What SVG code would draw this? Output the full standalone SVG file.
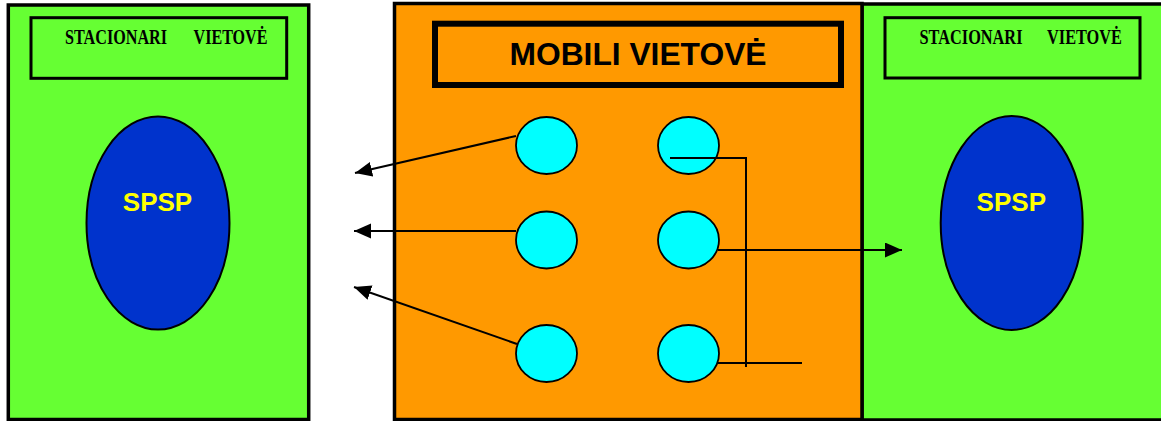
<svg xmlns="http://www.w3.org/2000/svg" width="1161" height="421" viewBox="0 0 1161 421">
<style>
.green{fill:#66FF33;stroke:#000;stroke-width:3.5}
.orange{fill:#FF9900;stroke:#000;stroke-width:3.5}
.title{fill:none;stroke:#000;stroke-width:3}
.mtitle{fill:none;stroke:#000;stroke-width:6}
.stat{font-family:"Liberation Serif",serif;font-weight:bold;font-size:21px;fill:#000}
.mob{font-family:"Liberation Sans",Arial,sans-serif;font-weight:bold;font-size:31px;fill:#000}
.spsp{font-family:"Liberation Sans",Arial,sans-serif;font-weight:bold;font-size:26px;fill:#FFFF00}
.blue{fill:#0033CC;stroke:#000;stroke-width:2}
.cyan{fill:#00FFFF;stroke:#000;stroke-width:1.8}
.conn{fill:none;stroke:#000;stroke-width:2}
</style>
<defs>
<marker id="ah" markerUnits="userSpaceOnUse" markerWidth="18" markerHeight="16" refX="17" refY="7.5" orient="auto">
<path d="M0,0 L17,7.5 L0,15 z" fill="#000"/>
</marker>
</defs>
<g id="left-site">
<rect class="green" x="8.3" y="5" width="300.4" height="414.5"/>
<rect class="title" x="31" y="17.7" width="255.7" height="60.6"/>
<text class="stat" x="65" y="44" textLength="102" lengthAdjust="spacingAndGlyphs">STACIONARI</text>
<text class="stat" x="193.5" y="44" textLength="74" lengthAdjust="spacingAndGlyphs">VIETOVĖ</text>
</g>
<g id="left-spsp">
<ellipse class="blue" cx="158" cy="223" rx="71.5" ry="106.5"/>
<text class="spsp" x="157.5" y="210.7" text-anchor="middle">SPSP</text>
</g>
<g id="right-site">
<rect class="green" x="862" y="4" width="305" height="416"/>
<rect class="title" x="885" y="17.7" width="255" height="60.3"/>
<text class="stat" x="919.5" y="44" textLength="103" lengthAdjust="spacingAndGlyphs">STACIONARI</text>
<text class="stat" x="1047" y="44" textLength="75" lengthAdjust="spacingAndGlyphs">VIETOVĖ</text>
</g>
<g id="right-spsp">
<ellipse class="blue" cx="1011.7" cy="223" rx="71" ry="107"/>
<text class="spsp" x="1011.3" y="210.7" text-anchor="middle">SPSP</text>
</g>
<g id="mobile-site">
<rect class="orange" x="394.5" y="3.5" width="467.5" height="416"/>
<rect class="mtitle" x="435" y="23.7" width="406" height="61.3"/>
<text class="mob" x="638" y="65" text-anchor="middle" textLength="257" lengthAdjust="spacingAndGlyphs">MOBILI VIETOVĖ</text>
</g>
<g id="node-l1"><ellipse class="cyan" cx="546.5" cy="145.5" rx="30.5" ry="28.5"/></g>
<g id="node-l2"><ellipse class="cyan" cx="546.5" cy="240" rx="30.5" ry="28.5"/></g>
<g id="node-l3"><ellipse class="cyan" cx="546.5" cy="353.5" rx="30.5" ry="28.5"/></g>
<g id="node-r1"><ellipse class="cyan" cx="688.5" cy="145.5" rx="30.5" ry="28.5"/></g>
<g id="node-r2"><ellipse class="cyan" cx="688.5" cy="240" rx="30.5" ry="28.5"/></g>
<g id="node-r3"><ellipse class="cyan" cx="688.5" cy="353.5" rx="30.5" ry="28.5"/></g>
<g id="connectors">
<line class="conn" x1="516" y1="136" x2="355" y2="173" marker-end="url(#ah)"/>
<line class="conn" x1="516" y1="231" x2="354" y2="231" marker-end="url(#ah)"/>
<line class="conn" x1="517" y1="344" x2="354" y2="287" marker-end="url(#ah)"/>
<line class="conn" x1="718" y1="250" x2="902" y2="250" marker-end="url(#ah)"/>
<polyline class="conn" points="670,158 746,158 746,367"/>
<line class="conn" x1="718" y1="363" x2="802" y2="363"/>
</g>
</svg>
